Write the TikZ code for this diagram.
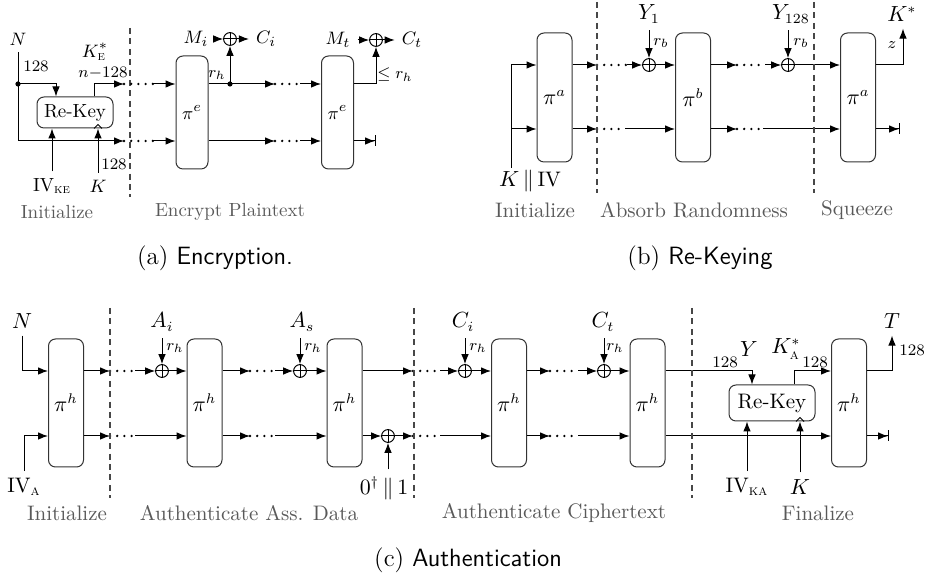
\documentclass[tikz,border=0pt]{standalone}
\usepackage{amsmath}
\usepackage{fontspec}
\usetikzlibrary{arrows.meta,calc}

\tikzset{
  perm/.style={draw=black!80, rounded corners=3.5pt, inner sep=0pt, minimum width=17.5pt, minimum height=64pt},
  rekey/.style={draw=black!80, rounded corners=3.5pt, inner sep=0pt},
  xorop/.style={circle, draw, inner sep=0pt, minimum size=6.4pt,
    path picture={\draw (path picture bounding box.north) -- (path picture bounding box.south)
      (path picture bounding box.west) -- (path picture bounding box.east);}},
  dotline/.style={line width=1.3pt, line cap=round, dash pattern=on 0pt off 3.6pt},
  phasesep/.style={draw=black!72, line width=1.4pt, dash pattern=on 3pt off 2.2pt},
  phase/.style={text=black!65},
  smalllbl/.style={font=\fontsize{8}{9}\selectfont},
  stopline/.style={-{Latex[length=5pt,width=3.8pt,sep=0pt]Bar[width=5.5pt]}},
  capt/.style={font=\fontsize{12.5}{14}\selectfont}
}

\begin{document}
\begin{tikzpicture}[x=0.5pt, y=-0.5pt, line width=0.5pt, >={Latex[length=5pt,width=3.8pt]}]
\useasboundingbox (0,0) rectangle (927,581);

% (a) encryption
\begin{scope}[every node/.style={font=\fontsize{9.5}{11}\selectfont}]
\node (nA) at (18,39) {$N$};
\coordinate (jA) at (18,84);
\node[rekey, minimum width=38pt, minimum height=15.5pt] (rkA) at (75,112.5) {Re-Key};
\node[perm, minimum width=16pt, minimum height=56.5pt] (peA1) at (192,112.5) {$\pi^e$};
\node[perm, minimum width=16pt, minimum height=56.5pt] (peA2) at (337.5,112.5) {$\pi^e$};
\coordinate (aU1) at (124,84);
\coordinate (aL1) at (124,141);
\coordinate (aU2) at (153,84);
\coordinate (aL2) at (153,141);
\draw[->] (nA) |- (aL1);
\fill (jA) circle (1.3pt);
\draw[->] (jA) -| ([xshift=-9.5pt]rkA.north);
\draw[->] ([xshift=9.5pt]rkA.north) |- (aU1);
\node[smalllbl] at (36,66) {128};
\node at (95,52) {$K^*_{\text{\textsc{e}}}$};
\node[smalllbl] at (103,73) {$n{-}128$};
\node (ivA) at (52,186) {$\mathrm{IV}_{\text{\textsc{ke}}}$};
\node (kA) at (98,186) {$K$};
\draw[->] (ivA) -- (ivA |- rkA.south);
\draw[->] (kA) -- (kA |- rkA.south);
\coordinate (wA) at (kA |- rkA.south);
\draw ($(wA)+(-4,0)$) -- ($(wA)+(0,-4)$) -- ($(wA)+(4,0)$);
\node[smalllbl] at (114,164) {128};
\draw[phasesep] (130,28) -- (130,197);
\draw[dotline] (aU1) -- (aU2);
\draw[dotline] (aL1) -- (aL2);
\draw[->] (aU2) -- (aU2 -| peA1.west);
\draw[->] (aL2) -- (aL2 -| peA1.west);
% first block output
\coordinate (jA2) at (230,84);
\draw (jA2 -| peA1.east) -- (jA2);
\fill (jA2) circle (1.3pt);
\node[smalllbl] at (217,75) {$r_h$};
\node[xorop] (xA1) at (230,39) {};
\node (miA) at (196,39) {$M_i$};
\node (ciA) at (266,39) {$C_i$};
\draw[->] (jA2) -- (xA1);
\draw[->] (miA) -- (xA1);
\draw[->] (xA1) -- (ciA);
\coordinate (aU3) at (275,84);
\coordinate (aU4) at (300,84);
\coordinate (aL3) at (275,141);
\coordinate (aL4) at (300,141);
\draw[->] (jA2) -- (aU3);
\draw[->] (aL3 -| peA1.east) -- (aL3);
\draw[dotline] (aU3) -- (aU4);
\draw[dotline] (aL3) -- (aL4);
\draw[->] (aU4) -- (aU4 -| peA2.west);
\draw[->] (aL4) -- (aL4 -| peA2.west);
% last block output
\node[xorop] (xA2) at (376,40) {};
\node (mtA) at (338,40) {$M_t$};
\node (ctA) at (412,40) {$C_t$};
\draw[->] (aU4 -| peA2.east) -| (xA2);
\draw[->] (mtA) -- (xA2);
\draw[->] (xA2) -- (ctA);
\node[smalllbl] at (395,75) {$\le r_h$};
\coordinate (endA) at (376,141);
\draw[stopline] (endA -| peA2.east) -- (endA);
\node[phase] at (57,212) {Initialize};
\node[phase] at (230,212) {Encrypt Plaintext};
\end{scope}
\node[capt] at (215,258) {(a) \textsf{Encryption.}};

% (b) re-keying
\begin{scope}[every node/.style={font=\fontsize{10.5}{12.5}\selectfont}]
\node[perm, minimum height=64.5pt] (paB1) at (554.5,97.5) {$\pi^a$};
\node[perm, minimum height=64.5pt] (pbB) at (693,97.5) {$\pi^b$};
\node[perm, minimum height=64.5pt] (paB2) at (858,97.5) {$\pi^a$};
\node (kivB) at (530,181) {$K \,\|\, \mathrm{IV}$};
\coordinate (bIn) at (511,168);
\coordinate (bL0) at (511,129);
\coordinate (bU1) at (597,65);
\coordinate (bL1) at (597,129);
\coordinate (bU2) at (627,65);
\coordinate (bL2) at (625,129);
\draw[->] (bIn) |- (bU1 -| paB1.west);
\draw[->] (bL0) -- (bL0 -| paB1.west);
\draw[->] (bU1 -| paB1.east) -- (bU1);
\draw[->] (bL1 -| paB1.east) -- (bL1);
\draw[dotline] (bU1) -- (bU2);
\draw[dotline] (bL1) -- (bL2);
\node[xorop] (xB1) at (649,65) {};
\node (y1B) at (649,14) {$Y_1$};
\draw[->] (bU2) -- (xB1);
\draw[->] (y1B) -- (xB1);
\node[smalllbl] at (661,43) {$r_b$};
\draw[->] (xB1) -- (xB1 -| pbB.west);
\draw[->] (bL2) -- (bL2 -| pbB.west);
\coordinate (bU3) at (737,65);
\coordinate (bU4) at (765,65);
\coordinate (bL3) at (737,129);
\coordinate (bL4) at (763,129);
\draw[->] (bU3 -| pbB.east) -- (bU3);
\draw[->] (bL3 -| pbB.east) -- (bL3);
\draw[dotline] (bU3) -- (bU4);
\draw[dotline] (bL3) -- (bL4);
\node[xorop] (xB2) at (788,65) {};
\node (y128B) at (791,14) {$Y_{128}$};
\draw[->] (bU4) -- (xB2);
\draw[->] (xB2 |- y128B.south) -- (xB2);
\node[smalllbl] at (801,43) {$r_b$};
\draw[->] (xB2) -- (xB2 -| paB2.west);
\draw[->] (bL4) -- (bL4 -| paB2.west);
\node (ksB) at (902,14) {$K^*$};
\coordinate (bOut) at (903,65);
\draw[->] (bOut -| paB2.east) -- (bOut) -- (bOut |- ksB.south);
\node[smalllbl] at (892,45) {$z$};
\coordinate (endB) at (900,129);
\draw[stopline] (endB -| paB2.east) -- (endB);
\draw[phasesep] (597,2) -- (597,193);
\draw[phasesep] (814,2) -- (814,193);
\node[phase] at (535,210) {Initialize};
\node[phase] at (694,210) {Absorb Randomness};
\node[phase] at (857,210) {Squeeze};
\end{scope}
\node[capt] at (700,258) {(b) \textsf{Re-Keying}};

% (c) authentication
\begin{scope}[every node/.style={font=\fontsize{10.5}{12.5}\selectfont}]
\node[perm] (ph1) at (66,403) {$\pi^h$};
\node[perm] (ph2) at (204.5,403) {$\pi^h$};
\node[perm] (ph3) at (344.5,403) {$\pi^h$};
\node[perm] (ph4) at (509,403) {$\pi^h$};
\node[perm] (ph5) at (647.5,403) {$\pi^h$};
\node[perm] (ph6) at (849,403) {$\pi^h$};
\node[rekey, minimum width=43pt, minimum height=18pt] (rkC) at (772,403) {Re-Key};
% initialize
\node (nC) at (22,321) {$N$};
\node (ivaC) at (24,487) {$\mathrm{IV}_{\text{\textsc{a}}}$};
\coordinate (cU1) at (110,371);
\coordinate (cL1) at (110,436);
\coordinate (cU2) at (135,371);
\coordinate (cL2) at (135,436);
\draw[->] (nC) |- (cU1 -| ph1.west);
\draw[->] (ivaC) |- (cL1 -| ph1.west);
\draw[->] (cU1 -| ph1.east) -- (cU1);
\draw[->] (cL1 -| ph1.east) -- (cL1);
\draw[dotline] (cU1) -- (cU2);
\draw[dotline] (cL1) -- (cL2);
% associated data
\node[xorop] (xC1) at (162,371) {};
\node (aiC) at (162,322) {$A_i$};
\draw[->] (cU2) -- (xC1);
\draw[->] (aiC) -- (xC1);
\node[smalllbl] at (175,348) {$r_h$};
\draw[->] (xC1) -- (xC1 -| ph2.west);
\draw[->] (cL2) -- (cL2 -| ph2.west);
\coordinate (cU3) at (250,371);
\coordinate (cU4) at (275,371);
\coordinate (cL3) at (250,436);
\coordinate (cL4) at (275,436);
\draw[->] (cU3 -| ph2.east) -- (cU3);
\draw[->] (cL3 -| ph2.east) -- (cL3);
\draw[dotline] (cU3) -- (cU4);
\draw[dotline] (cL3) -- (cL4);
\node[xorop] (xC2) at (300,371) {};
\node (asC) at (302,322) {$A_s$};
\draw[->] (cU4) -- (xC2);
\draw[->] (xC2 |- asC.south) -- (xC2);
\node[smalllbl] at (313,348) {$r_h$};
\draw[->] (xC2) -- (xC2 -| ph3.west);
\draw[->] (cL4) -- (cL4 -| ph3.west);
\coordinate (cU5) at (413,371);
\coordinate (cU6) at (440,371);
\coordinate (cL5) at (413,436);
\coordinate (cL6) at (440,436);
\draw[->] (cU5 -| ph3.east) -- (cU5);
\node[xorop] (xC4) at (388,436) {};
\node (padC) at (384,488) {$0^{\dagger}\,\|\,1$};
\draw[->] (xC4 -| ph3.east) -- (xC4);
\draw[->] (padC.north -| xC4) -- (xC4);
\draw[->] (xC4) -- (cL5);
\draw[dotline] (cU5) -- (cU6);
\draw[dotline] (cL5) -- (cL6);
% ciphertext
\node[xorop] (xC3) at (465,371) {};
\node (ciC) at (463,322) {$C_i$};
\draw[->] (cU6) -- (xC3);
\draw[->] (xC3 |- ciC.south) -- (xC3);
\node[smalllbl] at (478,348) {$r_h$};
\draw[->] (xC3) -- (xC3 -| ph4.west);
\draw[->] (cL6) -- (cL6 -| ph4.west);
\coordinate (cU7) at (550,371);
\coordinate (cU8) at (578,371);
\coordinate (cL7) at (550,436);
\coordinate (cL8) at (578,436);
\draw[->] (cU7 -| ph4.east) -- (cU7);
\draw[->] (cL7 -| ph4.east) -- (cL7);
\draw[dotline] (cU7) -- (cU8);
\draw[dotline] (cL7) -- (cL8);
\node[xorop] (xC5) at (604,371) {};
\node (ctC) at (603,322) {$C_t$};
\draw[->] (cU8) -- (xC5);
\draw[->] (xC5 |- ctC.south) -- (xC5);
\node[smalllbl] at (615,348) {$r_h$};
\draw[->] (xC5) -- (xC5 -| ph5.west);
\draw[->] (cL8) -- (cL8 -| ph5.west);
% finalize
\draw[->] (cU7 -| ph5.east) -| ([xshift=-10pt]rkC.north);
\draw[->] ([xshift=11pt]rkC.north) |- (cU7 -| ph6.west);
\node[smalllbl] at (725,362) {128};
\node at (749,349) {$Y$};
\node at (786,349) {$K^*_{\text{\textsc{a}}}$};
\node[smalllbl] at (815,362) {128};
\draw[->] (cL7 -| ph5.east) -- (cL7 -| ph6.west);
\node (ivkaC) at (747,487) {$\mathrm{IV}_{\text{\textsc{ka}}}$};
\node (kC) at (800,487) {$K$};
\draw[->] (ivkaC) -- (ivkaC |- rkC.south);
\draw[->] (kC) -- (kC |- rkC.south);
\coordinate (wC) at (kC |- rkC.south);
\draw ($(wC)+(-4,0)$) -- ($(wC)+(0,-4)$) -- ($(wC)+(4,0)$);
\node (tC) at (892,321) {$T$};
\draw[->] (cU7 -| ph6.east) -| (tC);
\node[smalllbl] at (912,350) {128};
\coordinate (endC) at (889,436);
\draw[stopline] (endC -| ph6.east) -- (endC);
\draw[phasesep] (110,308) -- (110,498);
\draw[phasesep] (414,308) -- (414,498);
\draw[phasesep] (692,308) -- (692,498);
\node[phase] at (67,513) {Initialize};
\node[phase] at (249,513) {Authenticate Ass. Data};
\node[phase] at (554,513) {Authenticate Ciphertext};
\node[phase] at (818,513) {Finalize};
\end{scope}
\node[capt] at (468,560) {(c) \textsf{Authentication}};
\end{tikzpicture}
\end{document}
